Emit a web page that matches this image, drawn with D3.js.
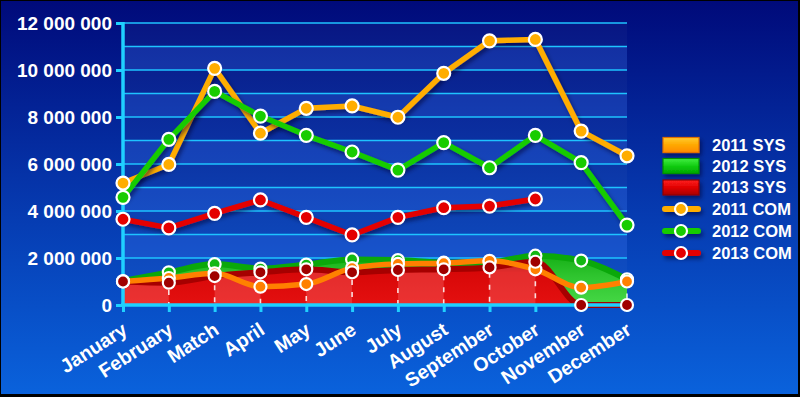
<!DOCTYPE html>
<html>
<head>
<meta charset="utf-8">
<script src="https://cdn.jsdelivr.net/npm/d3@7"></script>
<style>
  html, body { margin: 0; padding: 0; background: #000; }
  svg { display: block; }
  text { font-family: "Liberation Sans", Arial, sans-serif; font-weight: bold; fill: #fff; }
</style>
</head>
<body>
<svg id="chart" width="800" height="397"></svg>
<script>
// ---------- data ----------
const months = ["January","February","Match","April","May","June","July","August","September","October","November","December"];
const com2011 = [5190000, 5980000, 10070000, 7310000, 8370000, 8470000, 7990000, 9860000, 11240000, 11300000, 7400000, 6350000];
const com2012 = [4580000, 7050000, 9090000, 8040000, 7220000, 6510000, 5740000, 6910000, 5840000, 7220000, 6060000, 3400000];
const com2013 = [3650000, 3280000, 3900000, 4470000, 3730000, 2980000, 3730000, 4140000, 4210000, 4510000, null, null];
const sys2011 = [1000000, 1150000, 1350000, 780000, 890000, 1570000, 1750000, 1780000, 1880000, 1520000, 740000, 1000000];
const sys2012 = [1020000, 1390000, 1740000, 1550000, 1720000, 1940000, 1910000, 1800000, 1820000, 2100000, 1890000, 1090000];
const sys2013 = [1000000, 950000, 1230000, 1390000, 1520000, 1390000, 1490000, 1520000, 1600000, 1840000, 0, 0];
const yLabelTicks = [0, 2000000, 4000000, 6000000, 8000000, 10000000, 12000000];
const yGridTicks = d3.range(0, 12000001, 1000000);
const legendLabels = ["2011 SYS", "2012 SYS", "2013 SYS", "2011 COM", "2012 COM", "2013 COM"];

// ---------- setup ----------
const W = 800, H = 397;
const L = 123, R = 627, T = 23, B = 305;
const svg = d3.select("#chart");
const defs = svg.append("defs");

const x = d3.scalePoint().domain(months).range([L, R]);
const y = d3.scaleLinear().domain([0, 12000000]).range([B, T]);
const fmt = v => d3.format(",")(v).replace(/,/g, " ");

function lg(id, stops, x1=0, y1=0, x2=0, y2=1) {
  const g = defs.append("linearGradient").attr("id", id)
    .attr("x1", x1).attr("y1", y1).attr("x2", x2).attr("y2", y2);
  stops.forEach(s => g.append("stop").attr("offset", s[0]).attr("stop-color", s[1]));
}
lg("bg", [[0, "#000a7a"], [0.45, "#0533a8"], [1, "#0a62dc"]]);
lg("redFill", [[0, "#a80000"], [0.25, "#d80808"], [1, "#e41010"]]);
lg("greenFill", [[0, "#16b016"], [0.4, "#2ec42e"], [1, "#46d846"]]);
lg("swOrange", [[0, "#ffcc33"], [0.5, "#ffa800"], [1, "#ff8a00"]]);
lg("swGreen", [[0, "#44ee44"], [0.5, "#10cc10"], [1, "#00a800"]]);
lg("swRed", [[0, "#ff2020"], [0.5, "#e00000"], [1, "#a80000"]]);

const sh = defs.append("filter").attr("id", "shadow").attr("filterUnits", "userSpaceOnUse")
  .attr("x", 0).attr("y", 0).attr("width", W).attr("height", H);
sh.append("feDropShadow").attr("dx", 2).attr("dy", 3).attr("stdDeviation", 2)
  .attr("flood-color", "#000033").attr("flood-opacity", 0.55);

// background
svg.append("rect").attr("width", W).attr("height", H).attr("fill", "#000");
svg.append("rect").attr("x", 1).attr("y", 1).attr("width", W - 3).attr("height", H - 4).attr("fill", "url(#bg)");

// plot bands
svg.append("rect").attr("x", L).attr("y", T).attr("width", R - L).attr("height", B - T)
  .attr("fill", "#ffffff").attr("opacity", 0.03);
svg.append("g").selectAll("rect").data(d3.range(0, 12000000, 2000000)).join("rect")
  .attr("x", L).attr("width", R - L)
  .attr("y", d => y(d + 1000000)).attr("height", d => y(d) - y(d + 1000000))
  .attr("fill", "#3a7cff").attr("opacity", 0.22);

// gridlines
svg.append("g").selectAll("line").data(yGridTicks.filter(d => d > 0)).join("line")
  .attr("x1", L).attr("x2", R).attr("y1", d => y(d)).attr("y2", d => y(d))
  .attr("stroke", "#1ec3ff").attr("stroke-width", 1.6);

// ---------- SYS areas ----------
const curve = d3.curveMonotoneX;
const area = vals => d3.area().curve(curve).x((d, i) => x(months[i])).y0(y(0)).y1(d => y(d))(vals);
const line = vals => d3.line().curve(curve).x((d, i) => x(months[i])).y(d => y(d))(vals);

const gA = svg.append("g");
gA.append("path").attr("d", area(sys2011)).attr("fill", "#ff8000");
gA.append("path").attr("d", area(sys2012)).attr("fill", "url(#greenFill)");
gA.append("path").attr("d", line(sys2012)).attr("fill", "none").attr("stroke", "#0aa80a").attr("stroke-width", 6);
defs.append("clipPath").attr("id", "redClip").append("path").attr("d", area(sys2013));
gA.append("path").attr("d", area(sys2013)).attr("fill", "url(#redFill)");
// lighter vertical bands inside the red area
gA.append("g").attr("clip-path", "url(#redClip)").selectAll("rect")
  .data(months.slice(0, 11).filter((m, i) => i % 2 === 0)).join("rect")
  .attr("x", d => x(d)).attr("width", x.step()).attr("y", T).attr("height", B - T)
  .attr("fill", "#ff8080").attr("opacity", 0.3);
gA.append("path").attr("d", line(sys2013)).attr("fill", "none").attr("stroke", "#a60000").attr("stroke-width", 6);
// drop lines
gA.append("g").selectAll("line").data(months.slice(1)).join("line")
  .attr("x1", d => x(d)).attr("x2", d => x(d))
  .attr("y1", (d, i) => y(sys2011[i + 1])).attr("y2", y(0))
  .attr("stroke", "#fff").attr("stroke-width", 1.6).attr("stroke-dasharray", "5,7").attr("opacity", 0.85);
gA.append("path").attr("d", line(sys2011)).attr("fill", "none").attr("stroke", "#ff8000").attr("stroke-width", 5.5);

// ---------- axes ----------
const yAx = svg.append("g").attr("transform", `translate(${L},0)`)
  .call(d3.axisLeft(y).tickValues(yLabelTicks).tickSize(7).tickPadding(4).tickFormat(fmt));
yAx.select(".domain").remove();
yAx.selectAll(".tick line").attr("stroke", "#1fd0ff").attr("stroke-width", 3);
yAx.selectAll(".tick text").attr("font-size", 19).attr("fill", "#fff").attr("font-family", null);
svg.append("line").attr("x1", L).attr("x2", L).attr("y1", T - 1).attr("y2", B + 2)
  .attr("stroke", "#1fd0ff").attr("stroke-width", 3.5);

const xAx = svg.append("g").attr("transform", `translate(0,${B})`)
  .call(d3.axisBottom(x).tickSize(7).tickFormat(d => d));
xAx.select(".domain").remove();
xAx.selectAll(".tick line").attr("stroke", "#1fd0ff").attr("stroke-width", 3);
xAx.selectAll(".tick text").attr("font-size", 19.5).attr("font-family", null).attr("fill", "#fff")
  .attr("text-anchor", "end").attr("y", 0).attr("dy", 0)
  .attr("transform", "translate(5,28) rotate(-33)");
svg.append("line").attr("x1", L - 2).attr("x2", R + 2).attr("y1", B).attr("y2", B)
  .attr("stroke", "#1fd0ff").attr("stroke-width", 3.5);

// ---------- SYS markers ----------
function markers(vals, fill, r) {
  svg.append("g").selectAll("circle").data(vals.map((v, i) => [i, v]).filter(d => d[1] !== null)).join("circle")
    .attr("cx", d => x(months[d[0]])).attr("cy", d => y(d[1])).attr("r", r)
    .attr("fill", fill).attr("stroke", "#fff").attr("stroke-width", 2.2);
}
markers(sys2012, "#12b812", 6);
markers(sys2011, "#ff8000", 6);
markers(sys2013, "#a00000", 6);

// ---------- COM lines ----------
const comLine = d3.line().defined(d => d !== null).x((d, i) => x(months[i])).y(d => y(d));
const comSeries = [[com2011, "#ffad00"], [com2012, "#18cc00"], [com2013, "#e40000"]];
comSeries.forEach(([vals, c]) => {
  svg.append("path").attr("d", comLine(vals)).attr("fill", "none").attr("stroke", c)
    .attr("stroke-width", 5.5).attr("stroke-linejoin", "round").attr("filter", "url(#shadow)");
});
comSeries.forEach(([vals, c]) => markers(vals, c, 6.5));

// ---------- legend ----------
const leg = svg.append("g");
const rowsY = [145, 166, 187.5, 209, 231, 253];
const swFills = ["url(#swOrange)", "url(#swGreen)", "url(#swRed)"];
const swStroke = ["#e07000", "#009000", "#900000"];
const comCols = ["#ffad00", "#18cc00", "#e40000"];
legendLabels.forEach((lab, i) => {
  const cy = rowsY[i];
  if (i < 3) {
    leg.append("rect").attr("x", 663).attr("y", cy - 7.5).attr("width", 36).attr("height", 15)
      .attr("fill", swFills[i]).attr("stroke", swStroke[i]).attr("stroke-width", 1.2)
      .attr("filter", "url(#shadow)");
  } else {
    leg.append("rect").attr("x", 662).attr("y", cy - 3).attr("width", 39).attr("height", 6).attr("rx", 3)
      .attr("fill", comCols[i - 3]).attr("filter", "url(#shadow)");
    leg.append("circle").attr("cx", 681).attr("cy", cy).attr("r", 6)
      .attr("fill", comCols[i - 3]).attr("stroke", "#fff").attr("stroke-width", 2.2);
  }
  leg.append("text").attr("x", 712).attr("y", cy).attr("dy", "0.36em")
    .attr("font-size", 16.5).text(lab);
});
</script>
</body>
</html>
